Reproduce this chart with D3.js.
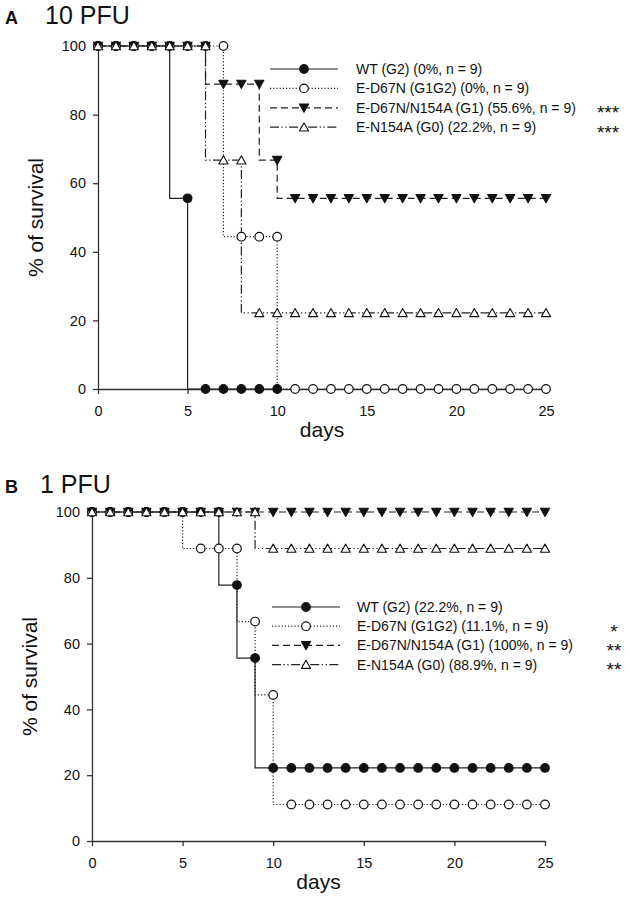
<!DOCTYPE html>
<html><head><meta charset="utf-8">
<script src="https://cdn.jsdelivr.net/npm/d3@7"></script>
<style>
body{margin:0;background:#fff}
svg{display:block}
text{font-family:"Liberation Sans",Arial,sans-serif;fill:#111}
</style>
</head><body>
<svg id="c" width="630" height="903"></svg>
<script>
// ---------- DATA ----------
const days = [0,1,2,3,4,5,6,7,8,9,10,11,12,13,14,15,16,17,18,19,20,21,22,23,24,25];
const xTicks = [0,5,10,15,20,25];
const yTicks = [0,20,40,60,80,100];

// Panel A: 10 PFU
const wtA     = [100,100,100,100,100,55.6,0,0,0,0,0,null,null,null,null,null,null,null,null,null,null,null,null,null,null,null];
const d67nA   = [100,100,100,100,100,100,100,100,44.4,44.4,44.4,0,0,0,0,0,0,0,0,0,0,0,0,0,0,0];
const d67nN154aA = [100,100,100,100,100,100,100,88.9,88.9,88.9,66.7,55.6,55.6,55.6,55.6,55.6,55.6,55.6,55.6,55.6,55.6,55.6,55.6,55.6,55.6,55.6];
const n154aA  = [100,100,100,100,100,100,100,66.7,66.7,22.2,22.2,22.2,22.2,22.2,22.2,22.2,22.2,22.2,22.2,22.2,22.2,22.2,22.2,22.2,22.2,22.2];

// Panel B: 1 PFU
const wtB     = [100,100,100,100,100,100,100,100,77.8,55.6,22.2,22.2,22.2,22.2,22.2,22.2,22.2,22.2,22.2,22.2,22.2,22.2,22.2,22.2,22.2,22.2];
const d67nB   = [100,100,100,100,100,100,88.9,88.9,88.9,66.7,44.4,11.1,11.1,11.1,11.1,11.1,11.1,11.1,11.1,11.1,11.1,11.1,11.1,11.1,11.1,11.1];
const d67nN154aB = [100,100,100,100,100,100,100,100,100,100,100,100,100,100,100,100,100,100,100,100,100,100,100,100,100,100];
const n154aB  = [100,100,100,100,100,100,100,100,100,100,88.9,88.9,88.9,88.9,88.9,88.9,88.9,88.9,88.9,88.9,88.9,88.9,88.9,88.9,88.9,88.9];

const legendA = ["WT (G2) (0%, n = 9)", "E-D67N (G1G2) (0%, n = 9)", "E-D67N/N154A (G1) (55.6%, n = 9)", "E-N154A (G0) (22.2%, n = 9)"];
const starsA  = ["", "", "***", "***"];
const legendB = ["WT (G2) (22.2%, n = 9)", "E-D67N (G1G2) (11.1%, n = 9)", "E-D67N/N154A (G1) (100%, n = 9)", "E-N154A (G0) (88.9%, n = 9)"];
const starsB  = ["", "*", "**", "**"];

const panelLetters = ["A", "B"];
const panelTitles = ["10 PFU", "1 PFU"];
const xLabel = "days";
const yLabel = "% of survival";

// ---------- STYLE ----------
const styles = [
  {dash: null, marker: "circle", fill: "#111"},
  {dash: "1.2,2", marker: "circle", fill: "#fff"},
  {dash: "7,4", marker: "down", fill: "#111"},
  {dash: "9,2.5,1.3,2.5,1.3,2.5", marker: "up", fill: "#fff"}
];

const svg = d3.select("#c");

function markerPath(type){
  if(type === "down") return "M-4.6,-3.8L4.6,-3.8L0,4.4Z";
  if(type === "up") return "M-4.6,3.8L4.6,3.8L0,-4.4Z";
  return null;
}

function drawMarker(g, type, fill, x, y){
  if(type === "circle"){
    g.append("circle").attr("cx", x).attr("cy", y).attr("r", 4.3)
      .attr("fill", fill).attr("stroke", "#111").attr("stroke-width", 1.2);
  } else {
    g.append("path").attr("d", markerPath(type)).attr("transform", `translate(${x},${y})`)
      .attr("fill", fill).attr("stroke", "#111").attr("stroke-width", 1.1).attr("stroke-linejoin", "round");
  }
}

function panel(cfg){
  const g = svg.append("g");
  const x = d3.scaleLinear().domain([0,25]).range([cfg.x0, cfg.x1]);
  const y = d3.scaleLinear().domain([0,100]).range([cfg.yb, cfg.yt]);

  // title
  g.append("text").attr("x", cfg.letterX).attr("y", cfg.titleY).attr("font-size", 18).attr("font-weight", "bold").text(cfg.letter);
  g.append("text").attr("x", cfg.titleX).attr("y", cfg.titleY).attr("font-size", 25).text(cfg.title);

  // axes
  const ax = g.append("g").attr("transform", `translate(0,${cfg.yb})`)
    .call(d3.axisBottom(x).tickValues(xTicks).tickSize(5).tickPadding(12).tickSizeOuter(0));
  const ay = g.append("g").attr("transform", `translate(${cfg.x0},0)`)
    .call(d3.axisLeft(y).tickValues(yTicks).tickSize(5).tickPadding(7).tickSizeOuter(0));
  [ax, ay].forEach(a => {
    a.selectAll("path,line").attr("stroke", "#333").attr("stroke-width", 1.3);
    a.selectAll("text").attr("font-size", 14.5).attr("fill", "#111").attr("font-family", '"Liberation Sans",Arial,sans-serif');
  });

  g.append("text").attr("x", (cfg.x0 + cfg.x1)/2).attr("y", cfg.yb + 48).attr("text-anchor", "middle")
    .attr("font-size", 21).text(xLabel);
  g.append("text").attr("transform", `translate(${cfg.ylabX},${(cfg.yt + cfg.yb)/2}) rotate(-90)`)
    .attr("text-anchor", "middle").attr("font-size", 21).text(yLabel);

  // lines
  const line = d3.line().defined(d => d[1] !== null).x(d => x(d[0])).y(d => y(d[1])).curve(d3.curveStepBefore);
  cfg.series.forEach((s, i) => {
    const pts = days.map((d, k) => [d, s[k]]);
    g.append("path").attr("d", line(pts)).attr("fill", "none").attr("stroke", "#222")
      .attr("stroke-width", 1.2).attr("stroke-dasharray", styles[i].dash);
  });
  // markers
  cfg.series.forEach((s, i) => {
    days.forEach((d, k) => {
      if(s[k] !== null) drawMarker(g, styles[i].marker, styles[i].fill, x(d), y(s[k]));
    });
  });

  // legend
  cfg.legend.forEach((lab, i) => {
    const yy = cfg.legY + i * cfg.legStep;
    g.append("line").attr("x1", cfg.legX0).attr("x2", cfg.legX1).attr("y1", yy).attr("y2", yy)
      .attr("stroke", "#222").attr("stroke-width", 1.2).attr("stroke-dasharray", styles[i].dash);
    drawMarker(g, styles[i].marker, styles[i].fill, (cfg.legX0 + cfg.legX1)/2, yy);
    g.append("text").attr("x", cfg.legTx).attr("y", yy).attr("dy", "0.36em").attr("font-size", 14).text(lab);
    if(cfg.stars[i]){
      g.append("text").attr("x", cfg.starX).attr("y", yy).attr("dy", "0.6em").attr("text-anchor", "middle")
        .attr("font-size", 19).text(cfg.stars[i]);
    }
  });
}

panel({x0: 98, x1: 546, yt: 46, yb: 389, letter: panelLetters[0], title: panelTitles[0],
  letterX: 5, titleX: 45, titleY: 24, ylabX: 43,
  series: [wtA, d67nA, d67nN154aA, n154aA],
  legend: legendA, stars: starsA, legX0: 270, legX1: 338, legTx: 356, legY: 69, legStep: 19.4, starX: 608});

panel({x0: 92, x1: 545, yt: 512, yb: 841, letter: panelLetters[1], title: panelTitles[1],
  letterX: 5, titleX: 40, titleY: 493, ylabX: 37,
  series: [wtB, d67nB, d67nN154aB, n154aB],
  legend: legendB, stars: starsB, legX0: 272, legX1: 340, legTx: 357, legY: 607, legStep: 19.2, starX: 614});
</script>
</body></html>
